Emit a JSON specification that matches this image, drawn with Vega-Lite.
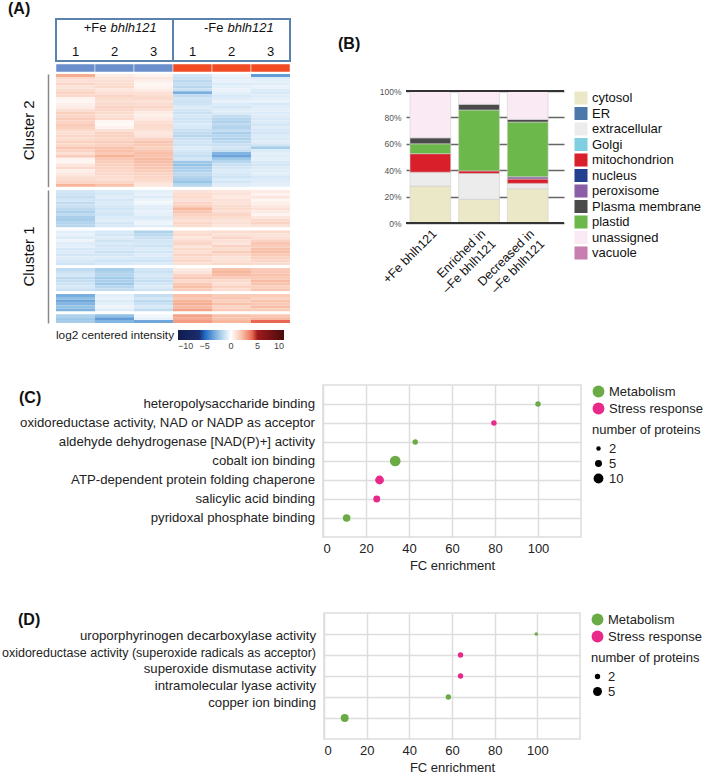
{
  "$schema": "https://vega.github.io/schema/vega-lite/v6.json",
  "background": "white",
  "padding": {"left": 1, "top": 1, "right": 0, "bottom": 0},
  "config": {
    "font": "Liberation Sans",
    "view": {"stroke": null},
    "title": {"fontSize": 16, "fontWeight": "bold", "anchor": "start", "color": "#111111"},
    "axis": {"labelColor": "#222222", "titleColor": "#222222"},
    "legend": {"labelColor": "#222222", "titleColor": "#222222"}
  },
  "spacing": 33,
  "resolve": {"scale": {"color": "independent", "size": "independent"}},
  "vconcat": [
    {
      "hconcat": [
        {
          "title": {"text": "(A)", "frame": "group", "dx": -48, "offset": 1},
          "spacing": 1,
          "resolve": {"scale": {"color": "independent"}},
          "vconcat": [
            {
              "width": 234,
              "height": 42,
              "data": {"values": [
                {"grp": "+Fe", "lo": 0, "hi": 3, "mid": 1.5},
                {"grp": "-Fe", "lo": 3, "hi": 6, "mid": 4.5}
              ]},
              "layer": [
                {
                  "mark": {"type": "rect", "fill": "white", "stroke": "#5b81ad", "strokeWidth": 2},
                  "encoding": {
                    "x": {"field": "lo", "type": "quantitative", "scale": {"domain": [0, 6], "nice": false}, "axis": null},
                    "x2": {"field": "hi"}
                  }
                },
                {
                  "mark": {"type": "text", "align": "right", "dx": -8, "fontSize": 13, "color": "#111111"},
                  "encoding": {
                    "x": {"field": "mid", "type": "quantitative"},
                    "y": {"datum": "group", "type": "nominal", "scale": {"domain": ["group", "rep"], "padding": 0.4}, "axis": null},
                    "text": {"field": "grp"}
                  }
                },
                {
                  "mark": {"type": "text", "align": "left", "dx": -4, "fontSize": 13, "fontStyle": "italic", "color": "#111111"},
                  "encoding": {
                    "x": {"field": "mid", "type": "quantitative"},
                    "y": {"datum": "group", "type": "nominal"},
                    "text": {"value": "bhlh121"}
                  }
                },
                {
                  "data": {"values": [
                    {"rep": "1", "pos": 0.5}, {"rep": "2", "pos": 1.5}, {"rep": "3", "pos": 2.5},
                    {"rep": "1", "pos": 3.5}, {"rep": "2", "pos": 4.5}, {"rep": "3", "pos": 5.5}
                  ]},
                  "mark": {"type": "text", "fontSize": 13, "color": "#111111"},
                  "encoding": {
                    "x": {"field": "pos", "type": "quantitative"},
                    "y": {"datum": "rep", "type": "nominal"},
                    "text": {"field": "rep"}
                  }
                }
              ]
            },
            {
              "width": 234,
              "height": 8,
              "data": {"values": [
                {"col": "a", "grp": "+Fe"}, {"col": "b", "grp": "+Fe"}, {"col": "c", "grp": "+Fe"},
                {"col": "d", "grp": "-Fe"}, {"col": "e", "grp": "-Fe"}, {"col": "f", "grp": "-Fe"}
              ]},
              "mark": {"type": "rect", "stroke": "#ffffff", "strokeWidth": 0.5},
              "encoding": {
                "x": {"field": "col", "type": "nominal", "axis": null, "scale": {"paddingInner": 0, "paddingOuter": 0}},
                "color": {"field": "grp", "type": "nominal", "scale": {"domain": ["+Fe", "-Fe"], "range": ["#6b8fcb", "#f04b22"]}, "legend": null}
              }
            },
            {
              "data": {"values": [
                {"r": 1, "cl": "Cluster 2", "a": 2.6, "b": 0.6, "c": 0.4, "d": -1.0, "e": -0.4, "f": -3.5},
                {"r": 2, "cl": "Cluster 2", "a": 1.2, "b": 0.9, "c": 0.8, "d": -1.2, "e": -0.6, "f": -0.8},
                {"r": 3, "cl": "Cluster 2", "a": 1.0, "b": 1.0, "c": 0.5, "d": -1.5, "e": -0.5, "f": -0.6},
                {"r": 4, "cl": "Cluster 2", "a": 1.3, "b": 1.1, "c": 0.3, "d": -1.3, "e": -0.8, "f": -0.7},
                {"r": 5, "cl": "Cluster 2", "a": 0.9, "b": 1.2, "c": 0.4, "d": -1.6, "e": -0.6, "f": -0.5},
                {"r": 6, "cl": "Cluster 2", "a": 1.1, "b": 0.8, "c": 0.6, "d": -1.2, "e": -0.5, "f": -0.8},
                {"r": 7, "cl": "Cluster 2", "a": 1.4, "b": 1.0, "c": 1.0, "d": -3.0, "e": -0.6, "f": -0.9},
                {"r": 8, "cl": "Cluster 2", "a": 1.2, "b": 1.3, "c": 1.1, "d": -1.4, "e": -0.9, "f": -0.7},
                {"r": 9, "cl": "Cluster 2", "a": 0.4, "b": 1.1, "c": 1.2, "d": -1.0, "e": -0.7, "f": -0.6},
                {"r": 10, "cl": "Cluster 2", "a": 0.3, "b": 1.0, "c": 0.9, "d": -1.1, "e": -0.5, "f": -0.5},
                {"r": 11, "cl": "Cluster 2", "a": 0.5, "b": 1.2, "c": 1.1, "d": -1.1, "e": -0.8, "f": -0.9},
                {"r": 12, "cl": "Cluster 2", "a": 0.6, "b": 1.4, "c": 1.3, "d": -0.8, "e": -1.0, "f": -0.7},
                {"r": 13, "cl": "Cluster 2", "a": 1.0, "b": 1.3, "c": 1.0, "d": -1.0, "e": -0.7, "f": -0.6},
                {"r": 14, "cl": "Cluster 2", "a": 1.5, "b": 1.1, "c": 0.6, "d": -1.2, "e": -0.8, "f": -0.8},
                {"r": 15, "cl": "Cluster 2", "a": 1.3, "b": 1.0, "c": 0.5, "d": -0.9, "e": -1.3, "f": -0.7},
                {"r": 16, "cl": "Cluster 2", "a": 1.6, "b": 1.2, "c": 0.7, "d": -1.1, "e": -1.6, "f": -0.9},
                {"r": 17, "cl": "Cluster 2", "a": 1.4, "b": 0.3, "c": 1.0, "d": -1.0, "e": -1.8, "f": -0.8},
                {"r": 18, "cl": "Cluster 2", "a": 1.7, "b": 0.2, "c": 1.2, "d": -0.8, "e": -1.5, "f": -1.0},
                {"r": 19, "cl": "Cluster 2", "a": 1.5, "b": 0.4, "c": 1.1, "d": -0.9, "e": -1.7, "f": -0.7},
                {"r": 20, "cl": "Cluster 2", "a": 1.2, "b": 1.0, "c": 1.0, "d": -1.2, "e": -1.4, "f": -0.9},
                {"r": 21, "cl": "Cluster 2", "a": 1.0, "b": 1.4, "c": 0.8, "d": -1.4, "e": -1.9, "f": -1.0},
                {"r": 22, "cl": "Cluster 2", "a": 1.3, "b": 1.5, "c": 0.9, "d": -1.6, "e": -1.6, "f": -0.8},
                {"r": 23, "cl": "Cluster 2", "a": 1.1, "b": 1.3, "c": 1.4, "d": -1.2, "e": -1.8, "f": -0.9},
                {"r": 24, "cl": "Cluster 2", "a": 1.5, "b": 1.6, "c": 1.9, "d": -1.0, "e": -1.5, "f": -0.7},
                {"r": 25, "cl": "Cluster 2", "a": 1.2, "b": 1.4, "c": 1.7, "d": -1.1, "e": -1.2, "f": -1.0},
                {"r": 26, "cl": "Cluster 2", "a": 1.8, "b": 1.9, "c": 1.5, "d": -0.8, "e": -1.0, "f": -2.0},
                {"r": 27, "cl": "Cluster 2", "a": 1.4, "b": 2.0, "c": 1.8, "d": -0.9, "e": -1.3, "f": -0.8},
                {"r": 28, "cl": "Cluster 2", "a": 1.0, "b": 1.7, "c": 2.0, "d": -1.1, "e": -2.8, "f": -0.6},
                {"r": 29, "cl": "Cluster 2", "a": 1.6, "b": 2.4, "c": 1.9, "d": -1.3, "e": -3.3, "f": -0.7},
                {"r": 30, "cl": "Cluster 2", "a": 0.4, "b": 1.8, "c": 2.2, "d": -1.0, "e": -2.2, "f": -0.6},
                {"r": 31, "cl": "Cluster 2", "a": 0.3, "b": 1.6, "c": 2.1, "d": -2.2, "e": -1.6, "f": -0.9},
                {"r": 32, "cl": "Cluster 2", "a": 0.8, "b": 1.5, "c": 1.9, "d": -2.4, "e": -1.2, "f": -1.0},
                {"r": 33, "cl": "Cluster 2", "a": 1.2, "b": 1.4, "c": 1.8, "d": -2.0, "e": -1.0, "f": -0.8},
                {"r": 34, "cl": "Cluster 2", "a": 0.5, "b": 1.3, "c": 1.6, "d": -1.8, "e": -0.8, "f": -0.7},
                {"r": 35, "cl": "Cluster 2", "a": 0.7, "b": 1.2, "c": 1.4, "d": -1.5, "e": -0.9, "f": -0.6},
                {"r": 36, "cl": "Cluster 2", "a": 1.0, "b": 1.1, "c": 1.3, "d": -1.7, "e": -1.1, "f": -0.9},
                {"r": 37, "cl": "Cluster 2", "a": 1.1, "b": 1.0, "c": 1.2, "d": -1.9, "e": -0.8, "f": -0.8},
                {"r": 38, "cl": "Cluster 2", "a": 1.3, "b": 1.3, "c": 1.0, "d": -2.3, "e": -1.0, "f": -0.7},
                {"r": 39, "cl": "Cluster 2", "a": 2.4, "b": 2.0, "c": 0.8, "d": -1.6, "e": -0.7, "f": -0.6},
                {"r": 40, "cl": "Cluster 1", "a": -1.0, "b": -0.8, "c": -0.6, "d": 0.9, "e": 0.8, "f": 0.6},
                {"r": 41, "cl": "Cluster 1", "a": -1.1, "b": -0.9, "c": -0.5, "d": 1.1, "e": 0.9, "f": 0.4},
                {"r": 42, "cl": "Cluster 1", "a": -1.3, "b": -0.7, "c": -0.8, "d": 1.2, "e": 0.7, "f": 0.8},
                {"r": 43, "cl": "Cluster 1", "a": -1.0, "b": -1.0, "c": -0.4, "d": 1.0, "e": 1.0, "f": 0.3},
                {"r": 44, "cl": "Cluster 1", "a": -1.4, "b": -0.8, "c": -0.3, "d": 1.3, "e": 0.9, "f": 0.5},
                {"r": 45, "cl": "Cluster 1", "a": -1.2, "b": -0.9, "c": -0.6, "d": 1.5, "e": 1.1, "f": 0.7},
                {"r": 46, "cl": "Cluster 1", "a": -1.5, "b": -1.1, "c": -0.7, "d": 2.3, "e": 1.2, "f": 1.0},
                {"r": 47, "cl": "Cluster 1", "a": -1.8, "b": -0.9, "c": -0.5, "d": 1.8, "e": 1.0, "f": 0.6},
                {"r": 48, "cl": "Cluster 1", "a": -1.4, "b": -1.0, "c": -0.6, "d": 1.4, "e": 1.3, "f": 0.4},
                {"r": 49, "cl": "Cluster 1", "a": -1.9, "b": -0.8, "c": -0.8, "d": 1.2, "e": 1.1, "f": 0.8},
                {"r": 50, "cl": "Cluster 1", "a": -2.0, "b": -0.7, "c": -0.6, "d": 1.0, "e": 0.9, "f": 1.2},
                {"r": 51, "cl": "Cluster 1", "a": -1.7, "b": -1.0, "c": -0.4, "d": 1.3, "e": 1.0, "f": 1.4},
                {"r": 52, "cl": "Cluster 1", "a": -1.6, "b": -0.9, "c": -0.7, "d": 1.1, "e": 0.8, "f": 0.9},
                {"r": 53, "cl": "Cluster 1", "a": 0, "b": 0, "c": 0, "d": 0, "e": 0, "f": 0},
                {"r": 54, "cl": "Cluster 1", "a": -0.6, "b": -0.9, "c": -1.8, "d": 1.0, "e": 1.1, "f": 1.2},
                {"r": 55, "cl": "Cluster 1", "a": -0.5, "b": -1.0, "c": -1.5, "d": 1.2, "e": 0.9, "f": 0.9},
                {"r": 56, "cl": "Cluster 1", "a": -0.8, "b": -0.7, "c": -1.2, "d": 0.8, "e": 1.3, "f": 1.0},
                {"r": 57, "cl": "Cluster 1", "a": -0.4, "b": -1.1, "c": -1.0, "d": 1.1, "e": 1.0, "f": 1.4},
                {"r": 58, "cl": "Cluster 1", "a": -0.7, "b": -0.8, "c": -0.9, "d": 1.3, "e": 0.8, "f": 1.8},
                {"r": 59, "cl": "Cluster 1", "a": -0.6, "b": -1.0, "c": -1.1, "d": 0.9, "e": 1.4, "f": 1.6},
                {"r": 60, "cl": "Cluster 1", "a": -0.9, "b": -0.9, "c": -0.8, "d": 1.2, "e": 1.1, "f": 2.0},
                {"r": 61, "cl": "Cluster 1", "a": -0.8, "b": -1.2, "c": -1.0, "d": 1.0, "e": 1.6, "f": 2.1},
                {"r": 62, "cl": "Cluster 1", "a": -1.0, "b": -1.0, "c": -0.7, "d": 1.4, "e": 1.2, "f": 1.7},
                {"r": 63, "cl": "Cluster 1", "a": -0.7, "b": -0.8, "c": -0.9, "d": 1.1, "e": 0.9, "f": 1.5},
                {"r": 64, "cl": "Cluster 1", "a": -0.9, "b": -1.1, "c": -1.1, "d": 1.3, "e": 1.0, "f": 1.3},
                {"r": 65, "cl": "Cluster 1", "a": -1.1, "b": -0.9, "c": -0.8, "d": 1.0, "e": 1.2, "f": 1.1},
                {"r": 66, "cl": "Cluster 1", "a": 0, "b": 0, "c": 0, "d": 0, "e": 0, "f": 0},
                {"r": 67, "cl": "Cluster 1", "a": -1.4, "b": -2.0, "c": -1.0, "d": 0.6, "e": 2.0, "f": 1.6},
                {"r": 68, "cl": "Cluster 1", "a": -1.2, "b": -1.8, "c": -1.2, "d": 0.9, "e": 2.3, "f": 1.8},
                {"r": 69, "cl": "Cluster 1", "a": -1.0, "b": -1.7, "c": -0.9, "d": 1.4, "e": 2.1, "f": 2.0},
                {"r": 70, "cl": "Cluster 1", "a": -1.5, "b": -2.1, "c": -1.1, "d": 1.8, "e": 1.6, "f": 1.7},
                {"r": 71, "cl": "Cluster 1", "a": -1.3, "b": -1.9, "c": -1.3, "d": 1.2, "e": 1.2, "f": 2.2},
                {"r": 72, "cl": "Cluster 1", "a": -1.1, "b": -2.2, "c": -1.0, "d": 1.7, "e": 1.0, "f": 1.9},
                {"r": 73, "cl": "Cluster 1", "a": -0.9, "b": -1.6, "c": -0.8, "d": 2.0, "e": 1.4, "f": 1.5},
                {"r": 74, "cl": "Cluster 1", "a": -1.2, "b": -1.4, "c": -1.1, "d": 1.6, "e": 1.1, "f": 1.8},
                {"r": 75, "cl": "Cluster 1", "a": 0, "b": 0, "c": 0, "d": 0, "e": 0, "f": 0},
                {"r": 76, "cl": "Cluster 1", "a": -3.0, "b": -0.6, "c": -1.3, "d": 2.0, "e": 1.6, "f": 1.6},
                {"r": 77, "cl": "Cluster 1", "a": -2.5, "b": -0.5, "c": -1.0, "d": 1.7, "e": 1.8, "f": 1.4},
                {"r": 78, "cl": "Cluster 1", "a": -3.2, "b": -0.8, "c": -1.5, "d": 2.4, "e": 1.5, "f": 1.9},
                {"r": 79, "cl": "Cluster 1", "a": -2.8, "b": -0.6, "c": -1.2, "d": 2.6, "e": 2.0, "f": 1.7},
                {"r": 80, "cl": "Cluster 1", "a": -2.4, "b": -0.4, "c": -0.9, "d": 2.2, "e": 1.4, "f": 2.1},
                {"r": 81, "cl": "Cluster 1", "a": -2.9, "b": -0.7, "c": -1.4, "d": 2.8, "e": 1.7, "f": 1.6},
                {"r": 82, "cl": "Cluster 1", "a": 0, "b": 0, "c": 0, "d": 0, "e": 0, "f": 0},
                {"r": 83, "cl": "Cluster 1", "a": -1.8, "b": -2.5, "c": -0.3, "d": 2.8, "e": 2.0, "f": 1.8},
                {"r": 84, "cl": "Cluster 1", "a": -2.2, "b": -3.5, "c": -0.5, "d": 2.6, "e": 1.9, "f": 2.2},
                {"r": 85, "cl": "Cluster 1", "a": -2.0, "b": -2.8, "c": -3.2, "d": 2.9, "e": 2.3, "f": 4.0}
              ]},
              "transform": [{"fold": ["a", "b", "c", "d", "e", "f"], "as": ["col", "v"]}],
              "facet": {
                "row": {
                  "field": "cl", "type": "nominal", "sort": ["Cluster 2", "Cluster 1"],
                  "header": {"title": null, "labelAngle": -90, "labelOrient": "left", "labelFontSize": 15, "labelPadding": 4, "labelColor": "#111111"}
                }
              },
              "spacing": {"row": 3},
              "resolve": {"scale": {"y": "independent"}},
              "spec": {
                "width": 234,
                "height": {"step": 2.89},
                "mark": {"type": "rect"},
                "encoding": {
                  "x": {"field": "col", "type": "nominal", "axis": null, "scale": {"paddingInner": 0, "paddingOuter": 0}},
                  "y": {"field": "r", "type": "ordinal", "scale": {"paddingInner": 0, "paddingOuter": 0},
                        "axis": {"labels": false, "ticks": false, "grid": false, "title": null, "domainColor": "#888888", "domainWidth": 1.5, "offset": 8}},
                  "color": {
                    "field": "v", "type": "quantitative",
                    "scale": {
                      "domain": [-10, -5.2, -5, -2.5, 0, 2.5, 4.8, 5, 10],
                      "range": ["#101c50", "#1b2f72", "#1f66c2", "#90c0e5", "#ffffff", "#f7b195", "#e0402e", "#9f1a1c", "#4a0b0d"],
                      "interpolate": "rgb"
                    },
                    "legend": {
                      "title": "log2 centered intensity", "orient": "bottom", "direction": "horizontal",
                      "titleOrient": "left", "titleFontSize": 11.8, "titleFontWeight": "normal", "titlePadding": 3,
                      "gradientLength": 106, "gradientThickness": 10, "values": [-10, -5, 0, 5, 10],
                      "labelFontSize": 9, "labelAlign": "center", "labelColor": "#444444", "offset": 7, "padding": 0
                    }
                  }
                }
              }
            }
          ]
        },
        {
          "spacing": 0,
          "resolve": {"scale": {"color": "independent"}},
          "vconcat": [
            {
              "width": 150,
              "height": 17,
              "data": {"values": []},
              "mark": {"type": "rect"},
              "encoding": {}
            },
            {
              "title": {"text": "(B)", "frame": "group", "dx": -68, "offset": 35},
              "width": 158,
              "height": 132,
              "data": {"values": [
                {"sample": "+Fe bhlh121", "loc": "cytosol", "pct": 28},
                {"sample": "+Fe bhlh121", "loc": "extracellular", "pct": 10.5},
                {"sample": "+Fe bhlh121", "loc": "mitochondrion", "pct": 14},
                {"sample": "+Fe bhlh121", "loc": "plastid", "pct": 7.5},
                {"sample": "+Fe bhlh121", "loc": "Plasma membrane", "pct": 4.5},
                {"sample": "+Fe bhlh121", "loc": "unassigned", "pct": 35.5},
                {"sample": "Enriched in –Fe bhlh121", "loc": "cytosol", "pct": 18},
                {"sample": "Enriched in –Fe bhlh121", "loc": "extracellular", "pct": 19.5},
                {"sample": "Enriched in –Fe bhlh121", "loc": "mitochondrion", "pct": 2},
                {"sample": "Enriched in –Fe bhlh121", "loc": "plastid", "pct": 46.1},
                {"sample": "Enriched in –Fe bhlh121", "loc": "Plasma membrane", "pct": 4.3},
                {"sample": "Enriched in –Fe bhlh121", "loc": "unassigned", "pct": 10.1},
                {"sample": "Decreased in –Fe bhlh121", "loc": "cytosol", "pct": 26},
                {"sample": "Decreased in –Fe bhlh121", "loc": "extracellular", "pct": 4},
                {"sample": "Decreased in –Fe bhlh121", "loc": "mitochondrion", "pct": 3.3},
                {"sample": "Decreased in –Fe bhlh121", "loc": "peroxisome", "pct": 1.7},
                {"sample": "Decreased in –Fe bhlh121", "loc": "plastid", "pct": 41.5},
                {"sample": "Decreased in –Fe bhlh121", "loc": "Plasma membrane", "pct": 2},
                {"sample": "Decreased in –Fe bhlh121", "loc": "unassigned", "pct": 21.5}
              ]},
              "layer": [
                {
                  "transform": [
                    {"calculate": "indexof(['cytosol','ER','extracellular','Golgi','mitochondrion','nucleus','peroxisome','plastid','Plasma membrane','unassigned','vacuole'], datum.loc)", "as": "stackIdx"}
                  ],
                  "mark": {"type": "bar", "stroke": "#cfcfcf", "strokeWidth": 0.6},
                  "encoding": {
                    "x": {
                      "field": "sample", "type": "nominal",
                      "sort": ["+Fe bhlh121", "Enriched in –Fe bhlh121", "Decreased in –Fe bhlh121"],
                      "scale": {"paddingInner": 0.163, "paddingOuter": 0.204, "align": 0.2},
                      "axis": {
                        "title": null, "labelAngle": -45, "labelFontSize": 12.5, "ticks": false, "domain": false,
                        "labelPadding": 4, "labelColor": "#111111",
                        "labelExpr": "indexof(datum.value, ' in ') > 0 ? [slice(datum.value, 0, indexof(datum.value, ' in ') + 3), slice(datum.value, indexof(datum.value, ' in ') + 4)] : datum.value"
                      }
                    },
                    "y": {
                      "field": "pct", "type": "quantitative", "stack": "zero",
                      "scale": {"domain": [0, 100], "nice": false},
                      "axis": {
                        "title": null, "tickCount": 5, "labelExpr": "datum.value + '%'",
                        "labelFontSize": 8.5, "labelColor": "#555555", "ticks": false, "domain": false, "labelOverlap": false,
                        "grid": true, "gridColor": "#666666", "gridWidth": 1.6, "labelPadding": 5
                      }
                    },
                    "color": {
                      "field": "loc", "type": "nominal",
                      "scale": {
                        "domain": ["cytosol", "ER", "extracellular", "Golgi", "mitochondrion", "nucleus", "peroxisome", "Plasma membrane", "plastid", "unassigned", "vacuole"],
                        "range": ["#ebe8c8", "#4a78a8", "#ececec", "#80cfe0", "#d9202a", "#233f8f", "#8a5fa5", "#4a4a4a", "#6cb84a", "#faeaf4", "#c87fb0"]
                      },
                      "legend": {
                        "title": null, "orient": "right", "offset": 10, "symbolType": "square", "symbolSize": 170,
                        "symbolStrokeWidth": 0, "labelFontSize": 13, "rowPadding": 1.5, "labelColor": "#111111"
                      }
                    },
                    "order": {"field": "stackIdx", "type": "quantitative"}
                  }
                },
                {
                  "data": {"values": [{"p": 0}, {"p": 100}]},
                  "mark": {"type": "rule", "color": "#333333", "strokeWidth": 2.2},
                  "encoding": {
                    "y": {
                      "field": "p", "type": "quantitative",
                      "axis": {
                        "title": null, "tickCount": 5, "labelExpr": "datum.value + '%'",
                        "labelFontSize": 8.5, "labelColor": "#555555", "ticks": false, "domain": false, "labelOverlap": false,
                        "grid": true, "gridColor": "#666666", "gridWidth": 1.6, "labelPadding": 5
                      }
                    }
                  }
                }
              ]
            }
          ]
        }
      ],
      "spacing": 47,
      "resolve": {"scale": {"color": "independent"}}
    },
    {
      "spacing": 39,
      "resolve": {"scale": {"color": "independent", "size": "independent"}},
      "vconcat": [
        {
          "title": {"text": "(C)", "frame": "group", "dx": -37, "offset": -22},
          "data": {"values": [
            {"term": "heteropolysaccharide binding", "fc": 100, "cat": "Metabolism", "n": 3},
            {"term": "oxidoreductase activity, NAD or NADP as acceptor", "fc": 79.5, "cat": "Stress response", "n": 3},
            {"term": "aldehyde dehydrogenase [NAD(P)+] activity", "fc": 42.9, "cat": "Metabolism", "n": 3},
            {"term": "cobalt ion binding", "fc": 33.6, "cat": "Metabolism", "n": 12},
            {"term": "ATP-dependent protein folding chaperone", "fc": 26.3, "cat": "Stress response", "n": 8},
            {"term": "salicylic acid binding", "fc": 25, "cat": "Stress response", "n": 5},
            {"term": "pyridoxal phosphate binding", "fc": 11, "cat": "Metabolism", "n": 6}
          ]},
          "spacing": 7,
          "resolve": {"scale": {"y": "shared"}},
          "hconcat": [
            {
              "width": 259,
              "height": 152,
              "mark": {"type": "text", "align": "right", "fontSize": 13.2, "color": "#222222"},
              "encoding": {
                "x": {"datum": 1, "type": "quantitative", "scale": {"domain": [0, 1]}, "axis": null},
                "y": {"field": "term", "type": "nominal", "sort": null, "scale": {"type": "point", "padding": 1}, "axis": null},
                "text": {"field": "term"}
              }
            },
            {
              "width": 258,
              "height": 152,
              "view": {"stroke": "#dddddd", "strokeWidth": 1.5},
              "mark": {"type": "circle", "opacity": 1},
              "encoding": {
                "x": {
                  "field": "fc", "type": "quantitative", "scale": {"domain": [0, 120], "nice": false},
                  "axis": {
                    "values": [0, 20, 40, 60, 80, 100], "grid": true, "gridColor": "#dddddd", "gridWidth": 1.5,
                    "domain": false, "ticks": false, "labelFontSize": 13, "labelPadding": 5,
                    "title": "FC enrichment", "titleFontSize": 13, "titleFontWeight": "normal", "titlePadding": 4
                  }
                },
                "y": {
                  "field": "term", "type": "nominal", "sort": null,
                  "scale": {"type": "point", "padding": 1},
                  "axis": {"title": null, "labels": false, "grid": true, "gridColor": "#dddddd", "gridWidth": 1.5, "domain": false, "ticks": false}
                },
                "color": {
                  "field": "cat", "type": "nominal",
                  "scale": {"domain": ["Metabolism", "Stress response"], "range": ["#6aab45", "#e8288a"]},
                  "legend": {"title": null, "orient": "right", "offset": 10, "symbolType": "circle", "symbolSize": 140, "symbolStrokeWidth": 0, "labelFontSize": 13, "rowPadding": 3}
                },
                "size": {
                  "field": "n", "type": "quantitative",
                  "scale": {"domain": [2, 12], "range": [20, 115]},
                  "legend": {"title": "number of proteins", "orient": "right", "offset": 10, "values": [2, 5, 10], "symbolFillColor": "#000000", "symbolStrokeWidth": 0, "titleFontSize": 13, "titleFontWeight": "normal", "labelFontSize": 13, "rowPadding": 1}
                }
              }
            }
          ]
        },
        {
          "title": {"text": "(D)", "frame": "group", "dx": -38, "offset": -16},
          "data": {"values": [
            {"term": "uroporphyrinogen decarboxylase activity", "fc": 99.5, "cat": "Metabolism", "n": 1},
            {"term": "oxidoreductase activity (superoxide radicals as acceptor)", "fc": 64, "cat": "Stress response", "n": 2},
            {"term": "superoxide dismutase activity", "fc": 64, "cat": "Stress response", "n": 2},
            {"term": "intramolecular lyase activity", "fc": 58.3, "cat": "Metabolism", "n": 2},
            {"term": "copper ion binding", "fc": 9.7, "cat": "Metabolism", "n": 4}
          ]},
          "spacing": 7,
          "resolve": {"scale": {"y": "shared"}},
          "hconcat": [
            {
              "width": 260,
              "height": 126,
              "mark": {
                "type": "text", "align": "right", "color": "#222222",
                "dy": {"expr": "datum.term === 'uroporphyrinogen decarboxylase activity' ? 1.5 : datum.term === 'oxidoreductase activity (superoxide radicals as acceptor)' ? -2 : datum.term === 'superoxide dismutase activity' ? -7 : datum.term === 'intramolecular lyase activity' ? -11 : -15"}
              },
              "encoding": {
                "x": {"datum": 1, "type": "quantitative", "scale": {"domain": [0, 1]}, "axis": null},
                "y": {"field": "term", "type": "nominal", "sort": null, "scale": {"type": "point", "padding": 1}, "axis": null},
                "text": {"field": "term"},
                "size": {"condition": {"test": "datum.term === 'oxidoreductase activity (superoxide radicals as acceptor)'", "value": 12.5}, "value": 13.2}
              }
            },
            {
              "width": 256,
              "height": 126,
              "view": {"stroke": "#dddddd", "strokeWidth": 1.5},
              "mark": {"type": "circle", "opacity": 1},
              "encoding": {
                "x": {
                  "field": "fc", "type": "quantitative", "scale": {"domain": [0, 120], "nice": false},
                  "axis": {
                    "values": [0, 20, 40, 60, 80, 100], "grid": true, "gridColor": "#dddddd", "gridWidth": 1.5,
                    "domain": false, "ticks": false, "labelFontSize": 13, "labelPadding": 5,
                    "title": "FC enrichment", "titleFontSize": 13, "titleFontWeight": "normal", "titlePadding": 4
                  }
                },
                "y": {
                  "field": "term", "type": "nominal", "sort": null,
                  "scale": {"type": "point", "padding": 1},
                  "axis": {"title": null, "labels": false, "grid": true, "gridColor": "#dddddd", "gridWidth": 1.5, "domain": false, "ticks": false}
                },
                "color": {
                  "field": "cat", "type": "nominal",
                  "scale": {"domain": ["Metabolism", "Stress response"], "range": ["#6aab45", "#e8288a"]},
                  "legend": {"title": null, "orient": "right", "offset": 10, "symbolType": "circle", "symbolSize": 140, "symbolStrokeWidth": 0, "labelFontSize": 13, "rowPadding": 3}
                },
                "size": {
                  "field": "n", "type": "quantitative",
                  "scale": {"domain": [1, 5], "range": [12, 80]},
                  "legend": {"title": "number of proteins", "orient": "right", "offset": 10, "values": [2, 5], "symbolFillColor": "#000000", "symbolStrokeWidth": 0, "titleFontSize": 13, "titleFontWeight": "normal", "labelFontSize": 13, "rowPadding": 1}
                }
              }
            }
          ]
        }
      ]
    }
  ]
}
